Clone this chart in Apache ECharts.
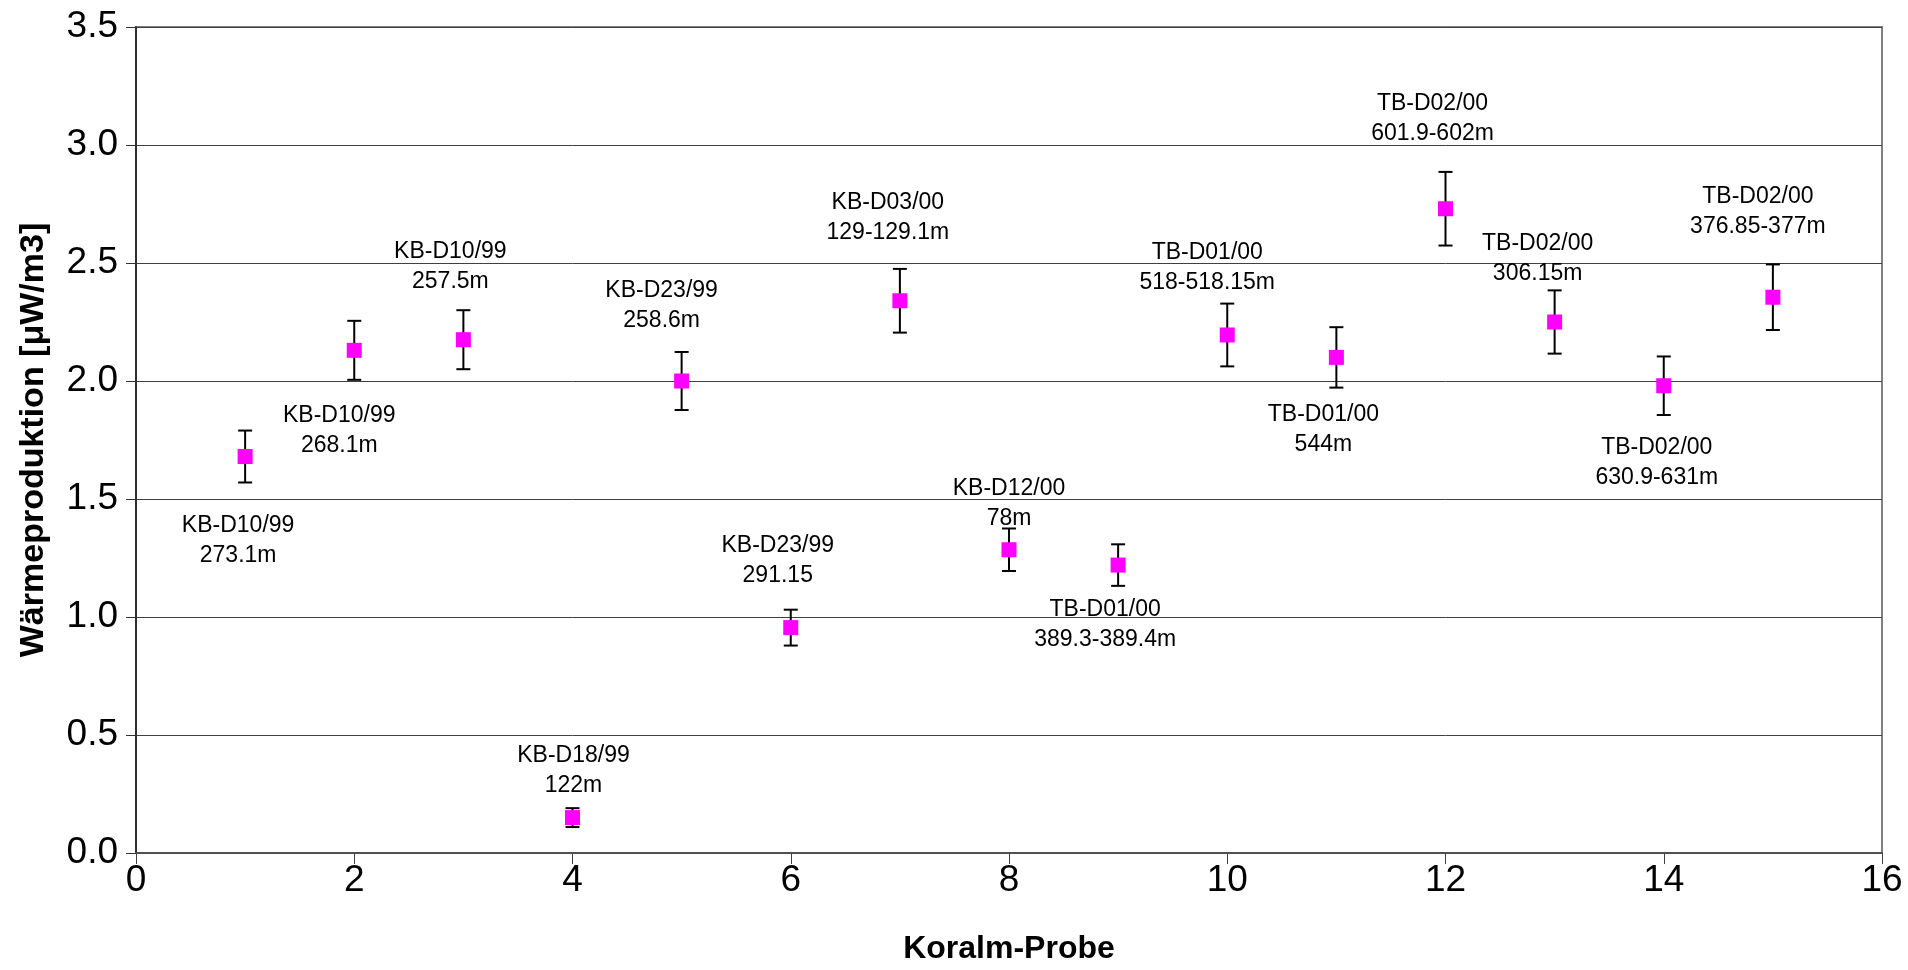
<!DOCTYPE html>
<html>
<head>
<meta charset="utf-8">
<title>Wärmeproduktion Koralm-Proben</title>
<script src="https://cdn.jsdelivr.net/npm/echarts@6/dist/echarts.min.js"></script>
<style>
  html, body { margin: 0; padding: 0; background: #fff; }
  #chart { width: 1908px; height: 970px; }
</style>
</head>
<body>
<div id="chart"></div>
<script>
// Probennummer (x), Wärmeproduktion in µW/m3 und Messunsicherheit (±)
const probe = [1, 2, 3, 4, 5, 6, 7, 8, 9, 10, 11, 12, 13, 14, 15];
const waerme = [1.68, 2.13, 2.175, 0.15, 2.00, 0.955, 2.34, 1.285, 1.22, 2.195, 2.10, 2.73, 2.25, 1.98, 2.355];
const fehler = [0.11, 0.125, 0.125, 0.04, 0.123, 0.076, 0.135, 0.09, 0.088, 0.133, 0.128, 0.156, 0.134, 0.124, 0.139];

// Bohrung und Teufe der einzelnen Proben
const bohrung = ['KB-D10/99', 'KB-D10/99', 'KB-D10/99', 'KB-D18/99', 'KB-D23/99', 'KB-D23/99', 'KB-D03/00',
  'KB-D12/00', 'TB-D01/00', 'TB-D01/00', 'TB-D01/00', 'TB-D02/00', 'TB-D02/00', 'TB-D02/00', 'TB-D02/00'];
const teufe = ['273.1m', '268.1m', '257.5m', '122m', '258.6m', '291.15', '129-129.1m',
  '78m', '389.3-389.4m', '518-518.15m', '544m', '601.9-602m', '306.15m', '630.9-631m', '376.85-377m'];

// Achsenbeschriftung
const yTicks = { min: 0, max: 3.5, step: 0.5 };
const xTicks = { min: 0, max: 16, step: 2 };

// Verschiebung der Beschriftung relativ zum Messpunkt (Pixel)
const labelShift = [[-7, 84], [-15, 80], [-13, -73], [1, -47], [-20, -75], [-13, -67], [-12, -83],
  [0, -46], [-13, 60], [-20, -67], [-13, 72], [-13, -90], [-17, -63], [-7, 77], [-15, -86]];

const FONT = '"Liberation Sans", Arial, Helvetica, sans-serif';

const points = probe.map((x, i) => ({
  value: [x, waerme[i]],
  label: {
    show: true,
    position: 'inside',
    offset: labelShift[i],
    formatter: bohrung[i] + '\n' + teufe[i]
  }
}));

const bars = probe.map((x, i) => [x, waerme[i] - fehler[i], waerme[i] + fehler[i]]);

const chart = echarts.init(document.getElementById('chart'), null, { renderer: 'canvas' });

chart.setOption({
  animation: false,
  backgroundColor: '#ffffff',
  grid: {
    left: 136, right: 26, top: 27, bottom: 114.5,
    show: true,
    borderColor: '#808080',
    borderWidth: 2,
    backgroundColor: 'transparent'
  },
  xAxis: {
    type: 'value',
    min: xTicks.min, max: xTicks.max, interval: xTicks.step,
    name: 'Koralm-Probe',
    nameLocation: 'middle',
    nameGap: 80,
    nameTextStyle: { fontFamily: FONT, fontSize: 32, fontWeight: 'bold', color: '#000' },
    axisLine: { show: true, onZero: false, lineStyle: { color: '#505050', width: 2 } },
    axisTick: { show: true, inside: false, length: 11, lineStyle: { color: '#404040', width: 1 } },
    axisLabel: { fontFamily: FONT, fontSize: 37, color: '#000', margin: 9 },
    splitLine: { show: false }
  },
  yAxis: {
    type: 'value',
    min: yTicks.min, max: yTicks.max, interval: yTicks.step,
    name: 'Wärmeproduktion [μW/m3]',
    nameLocation: 'middle',
    nameGap: 85,
    nameTextStyle: { fontFamily: FONT, fontSize: 34, fontWeight: 'bold', color: '#000' },
    axisLine: { show: true, lineStyle: { color: '#303030', width: 2 } },
    axisTick: { show: true, inside: false, length: 10, lineStyle: { color: '#303030', width: 1 } },
    axisLabel: {
      fontFamily: FONT, fontSize: 37, color: '#000', margin: 18,
      formatter: v => v.toFixed(1)
    },
    splitLine: { show: true, lineStyle: { color: '#404040', width: 1 } }
  },
  series: [
    {
      type: 'custom',
      name: 'Fehler',
      z: 3,
      data: bars,
      renderItem: function (params, api) {
        const x = api.value(0);
        const lo = api.coord([x, api.value(1)]);
        const hi = api.coord([x, api.value(2)]);
        const cap = 7;
        const style = { stroke: '#000', lineWidth: 2 };
        return {
          type: 'group',
          children: [
            { type: 'line', shape: { x1: lo[0], y1: lo[1], x2: hi[0], y2: hi[1] }, style: style },
            { type: 'line', shape: { x1: lo[0] - cap, y1: lo[1], x2: lo[0] + cap, y2: lo[1] }, style: style },
            { type: 'line', shape: { x1: hi[0] - cap, y1: hi[1], x2: hi[0] + cap, y2: hi[1] }, style: style }
          ]
        };
      }
    },
    {
      type: 'scatter',
      name: 'Wärmeproduktion',
      z: 4,
      symbol: 'rect',
      symbolSize: 15,
      itemStyle: { color: '#ff00ff', opacity: 1 },
      label: {
        fontFamily: FONT,
        fontSize: 23,
        lineHeight: 30,
        color: '#000',
        align: 'center',
        verticalAlign: 'middle'
      },
      emphasis: { disabled: true },
      data: points
    }
  ]
});
</script>
</body>
</html>
